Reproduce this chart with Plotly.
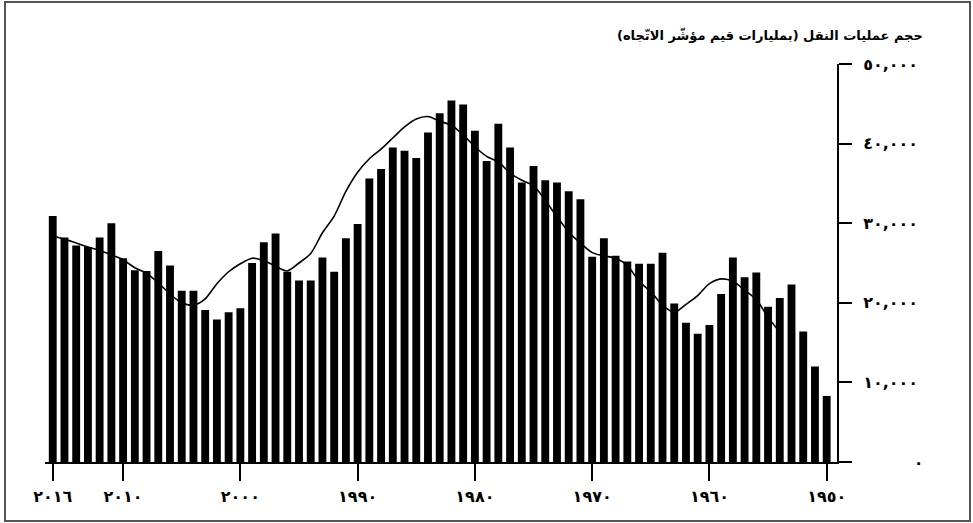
import plotly.graph_objects as go

years = list(range(2016, 1949, -1))
volume = [30900, 28200, 27200, 27000, 28200, 30000, 25600, 24100, 24000, 26500,
          24700, 21500, 21500, 19100, 17900, 18800, 19300, 25000, 27600, 28700,
          23900, 22800, 22800, 25700, 23900, 28100, 29900, 35600, 36800, 39500,
          39100, 38200, 41400, 43800, 45400, 44900, 41600, 37800, 42500, 39500,
          35100, 37200, 35400, 35100, 34000, 33000, 25800, 28100, 25900, 25200,
          24900, 24900, 26300, 19900, 17500, 16100, 17200, 21100, 25700, 23200,
          23800, 19500, 20600, 22300, 16400, 12000, 8300]

trend_years = list(range(2016, 1953, -1))
trend = [28400, 28000, 27500, 27000, 26600, 26000, 25400, 24400, 23700, 22500,
         21100, 20000, 19700, 20500, 22400, 23900, 24900, 25600, 25300, 24600,
         24000, 25000, 26200, 28800, 30900, 34000, 36400, 38100, 39300, 40700,
         42100, 43100, 43400, 42800, 42300, 41100, 39600, 38400, 37700, 36300,
         35400, 34700, 32900, 30800, 28900, 27500, 26300, 25900, 25600, 24700,
         22700, 21400, 19700, 18800, 19800, 20900, 22400, 23000, 22700, 21600,
         20400, 18200, 16300]

x_tick_vals = [2016, 2010, 2000, 1990, 1980, 1970, 1960, 1950]
x_tick_text = ["٢٠١٦", "٢٠١٠", "٢٠٠٠", "١٩٩٠", "١٩٨٠", "١٩٧٠", "١٩٦٠", "١٩٥٠"]
y_tick_vals = [0, 10000, 20000, 30000, 40000, 50000]
y_tick_text = ["\u2007\u2007\u2008\u2007\u2007٠", "١٠,٠٠٠", "٢٠,٠٠٠", "٣٠,٠٠٠", "٤٠,٠٠٠", "٥٠,٠٠٠"]
title_text = "حجم عمليات النقل (بمليارات قيم مؤشّر الاتّجاه)\u200f"

FONT = "DejaVu Sans"

fig = go.Figure()
fig.add_trace(go.Bar(x=years, y=volume, marker=dict(color="black", line=dict(width=0)),
                     width=0.67, showlegend=False))
fig.add_trace(go.Scatter(x=trend_years, y=trend, mode="lines",
                         line=dict(color="black", width=1.6, shape="spline", smoothing=0.8),
                         showlegend=False))

L, R, T, B = 45, 136, 64, 61
PW, PH = 973 - L - R, 523 - T - B

fig.update_layout(
    width=973, height=523,
    margin=dict(l=L, r=R, t=T, b=B),
    paper_bgcolor="white", plot_bgcolor="white",
    font=dict(family=FONT, color="black", size=13),
    hovermode=False,
    xaxis=dict(range=[2016.66, 1949.12], tickmode="array", tickvals=x_tick_vals,
               ticktext=x_tick_text, ticks="outside", ticklen=17, tickwidth=2,
               tickcolor="black", showline=True, linecolor="black", linewidth=2,
               showgrid=False, zeroline=False, ticklabelstandoff=2,
               tickfont=dict(family=FONT, size=16, color="black", weight="bold")),
    yaxis=dict(range=[0, 50000], side="right", tickmode="array", tickvals=y_tick_vals,
               ticktext=y_tick_text, ticks="outside", ticklen=13, tickwidth=2,
               tickcolor="black", showline=True, linecolor="black", linewidth=2,
               showgrid=False, zeroline=False, ticklabelstandoff=8,
               tickfont=dict(family=FONT, size=16, color="black", weight="bold")),
    annotations=[dict(text=title_text, xref="paper", yref="paper",
                      x=(925 - L) / PW, y=1 + (T - 35) / PH,
                      xanchor="right", yanchor="middle", showarrow=False,
                      font=dict(family=FONT, size=13, color="black", weight="bold"))],
    shapes=[dict(type="rect", xref="paper", yref="paper",
                 x0=(5 - L) / PW, x1=(970 - L) / PW,
                 y0=-(521 - (523 - B)) / PH, y1=1 + (T - 2) / PH,
                 line=dict(color="#555555", width=2), layer="above")],
)

fig.write_html("out.html", config={"displayModeBar": False},
               post_script="document.body.style.margin='0px';")
